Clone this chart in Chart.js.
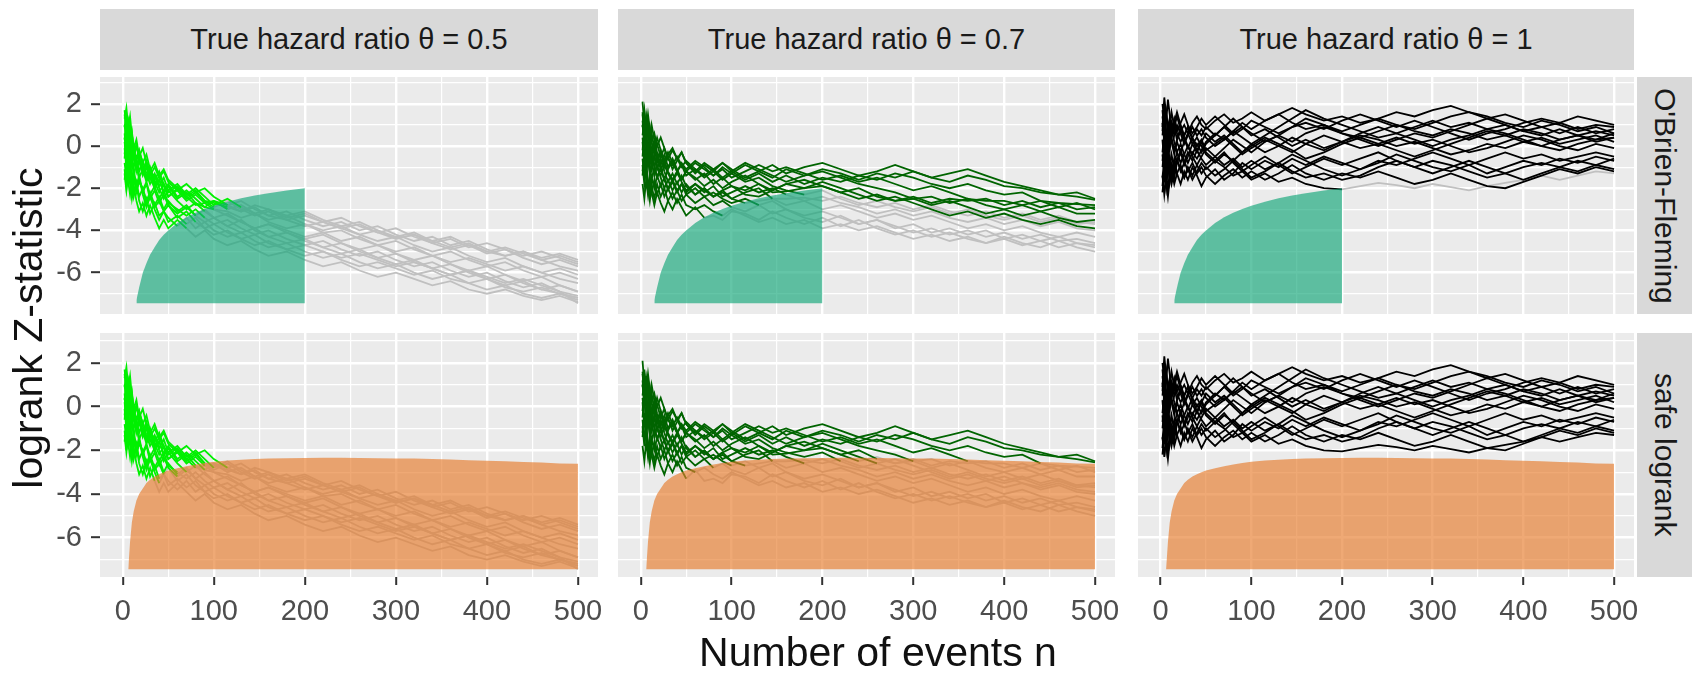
<!DOCTYPE html>
<html>
<head>
<meta charset="utf-8">
<script src="https://cdn.jsdelivr.net/npm/chart.js@4.4.1/dist/chart.umd.min.js"></script>
<style>
  body { margin: 0; background: #fff; }
  #fig { position: relative; width: 1698px; height: 675px; font-family: "Liberation Sans", Arial, sans-serif; }
  .panel { position: absolute; }
  .strip { position: absolute; background: #d9d9d9; color: #1a1a1a; font-size: 29px; display: flex; align-items: center; justify-content: center; }
  .strip.side { writing-mode: vertical-rl; font-size: 30px; }
  .title { position: absolute; color: #111; font-size: 41px; white-space: nowrap; }
</style>
</head>
<body>
<div id="fig"></div>
<script>
const nEvents = [2, 4, 6, 8, 10, 12, 15, 18, 22, 26, 30, 35, 40, 45, 50, 60, 70, 80, 90, 100,
  115, 130, 145, 160, 180, 200, 220, 240, 260, 280, 300, 320, 340, 360, 380, 400, 420, 440, 460, 480, 500];

// rejection boundaries (upper edge of the shaded regions)
const obfBound = [null, null, null, null, null, null, -7.3, -6.7, -6.0, -5.55, -5.15, -4.8, -4.45, -4.2, -4.0,
  -3.65, -3.38, -3.16, -2.98, -2.83, -2.64, -2.48, -2.35, -2.24, -2.11, -2.0,
  null, null, null, null, null, null, null, null, null, null, null, null, null, null, null];
const safeBound = [null, null, -7.45, -6.2, -5.3, -4.8, -4.3, -4.0, -3.75, -3.5, -3.35, -3.2, -3.1, -3.0, -2.92,
  -2.82, -2.73, -2.65, -2.58, -2.52, -2.47, -2.43, -2.4, -2.38, -2.36, -2.35, -2.34, -2.34, -2.35, -2.36,
  -2.37, -2.38, -2.4, -2.42, -2.45, -2.48, -2.5, -2.53, -2.56, -2.6, -2.62];
const areaFloor = -7.45;

// logrank Z paths, true hazard ratio 0.5
const theta05 = [
  [1.7, 0.8, 1.2, 0.3, 0.7, -0.1, 0.3, -0.5, -0.1, -0.8, -1.2, -0.8, -1.4, -1.1, -1.6, -2.0, -2.4, -2.1, -2.6, -2.7, -2.9, -3.1, -2.8, -3.0, -3.3, -3.1, -3.5, -3.8, -3.6, -4.0, -4.3, -4.1, -4.5, -4.8, -4.6, -5.0, -5.2, -5.0, -5.3, -5.1, -5.4],
  [0.2, -0.7, -1.5, -0.8, -1.6, -1.1, -1.9, -1.4, -2.2, -1.8, -2.5, -2.1, -2.7, -2.3, -2.8, -3.2, -2.9, -3.3, -3.6, -3.4, -3.8, -4.1, -3.9, -4.3, -4.6, -4.4, -4.8, -5.1, -4.9, -5.3, -5.6, -5.4, -5.8, -6.1, -5.9, -6.3, -6.6, -6.4, -6.8, -7.0, -7.2],
  [1.3, 1.8, 0.9, 1.4, 0.5, 0.0, -0.6, -0.2, -0.8, -0.4, -1.1, -1.6, -1.2, -1.8, -2.2, -1.9, -2.4, -2.8, -2.7, -3.0, -3.3, -3.6, -3.9, -3.7, -4.1, -4.4, -4.2, -4.6, -4.9, -4.7, -5.1, -5.4, -5.2, -5.6, -5.9, -5.7, -6.1, -6.4, -6.2, -6.6, -6.9],
  [-1.1, -2.0, -1.2, -1.8, -2.5, -1.9, -2.6, -3.1, -2.7, -3.3, -2.8, -3.4, -3.9, -3.5, -3.9, -3.5, -3.9, -4.3, -4.0, -4.4, -4.7, -4.5, -4.9, -5.2, -5.0, -5.4, -5.7, -5.5, -5.9, -6.2, -6.0, -6.3, -6.6, -6.4, -6.8, -7.0, -6.8, -7.1, -7.3, -7.1, -7.4],
  [0.6, -0.3, 0.5, -0.2, -0.9, -0.4, -1.2, -0.7, -1.4, -1.0, -1.6, -1.3, -1.9, -1.5, -2.1, -1.8, -2.3, -2.0, -2.4, -2.8, -2.5, -2.9, -3.2, -3.0, -3.4, -3.2, -3.6, -3.9, -3.7, -4.1, -4.4, -4.2, -4.5, -4.3, -4.7, -5.0, -4.8, -5.1, -5.4, -5.2, -5.5],
  [-0.4, 0.5, -0.3, -1.1, -0.5, -1.3, -2.0, -1.5, -2.3, -2.9, -2.4, -3.0, -3.5, -3.1, -3.6, -3.3, -3.7, -3.4, -3.9, -4.2, -4.0, -4.4, -4.7, -4.5, -4.9, -5.2, -5.0, -5.4, -5.7, -5.5, -5.8, -6.1, -5.9, -6.3, -6.5, -6.3, -6.7, -6.9, -6.7, -7.0, -7.2],
  [1.0, 0.1, -0.6, 0.0, -0.7, -0.2, -0.9, -1.5, -1.1, -1.7, -1.3, -1.9, -1.6, -2.2, -1.9, -2.5, -2.2, -2.7, -2.9, -3.0, -3.1, -3.4, -3.2, -3.6, -3.9, -3.7, -4.1, -4.0, -4.4, -4.7, -4.5, -4.9, -5.2, -5.0, -5.4, -5.7, -5.5, -5.9, -6.2, -6.0, -6.3],
  [-1.6, -0.8, -1.7, -2.3, -1.6, -2.4, -1.8, -2.6, -3.1, -2.5, -3.2, -2.7, -3.3, -3.1, -3.4, -3.8, -3.4, -3.9, -3.6, -4.0, -4.3, -4.1, -4.5, -4.8, -4.6, -5.0, -5.3, -5.1, -5.5, -5.8, -5.6, -6.0, -6.3, -6.1, -6.5, -6.8, -6.6, -7.0, -7.2, -7.0, -7.3],
  [0.9, 1.5, 0.7, 0.1, 0.6, -0.1, -0.7, -0.2, -0.9, -1.5, -1.0, -1.7, -2.2, -1.8, -2.4, -2.1, -2.6, -2.3, -2.7, -2.6, -2.8, -3.1, -2.9, -3.3, -3.5, -3.3, -3.6, -3.4, -3.8, -4.1, -3.9, -4.3, -4.6, -4.4, -4.8, -4.6, -4.9, -5.2, -5.0, -5.3, -5.6],
  [-0.8, -1.5, -0.7, -1.4, -2.1, -1.5, -2.2, -1.7, -2.0, -2.6, -2.2, -2.8, -2.4, -3.0, -2.6, -3.1, -2.8, -3.3, -3.0, -3.4, -3.8, -3.5, -4.0, -4.3, -4.1, -4.5, -4.8, -4.6, -5.0, -5.3, -5.1, -5.5, -5.8, -5.6, -6.0, -6.3, -6.1, -6.5, -6.8, -6.6, -6.9],
  [0.3, 1.1, 0.4, -0.4, 0.2, -0.5, 0.0, -0.6, -1.3, -0.8, -1.5, -2.0, -1.6, -2.2, -1.8, -2.4, -2.1, -2.5, -2.9, -2.6, -3.0, -2.8, -3.2, -3.5, -3.3, -3.7, -4.0, -3.8, -4.2, -4.5, -4.3, -4.7, -5.0, -4.8, -5.2, -5.5, -5.3, -5.7, -6.0, -5.8, -6.1],
  [-0.1, -1.0, -0.3, -1.2, -0.6, -1.4, -0.8, -1.6, -2.1, -1.7, -2.3, -1.9, -2.5, -2.1, -2.7, -3.0, -3.3, -3.0, -3.4, -3.7, -3.5, -3.9, -4.2, -4.0, -4.4, -4.7, -4.5, -4.9, -5.2, -5.0, -5.4, -5.7, -5.5, -5.9, -6.2, -6.0, -6.4, -6.7, -6.5, -6.9, -7.45],
  [-0.6, 0.4, -0.4, 0.3, -0.5, -1.0, -0.6, -1.2, -0.7, -1.3, -1.8, -1.4, -2.0, -2.5, -2.1, -2.6, -3.0, -2.7, -3.1, -3.4, -3.2, -3.6, -3.9, -3.7, -4.0, -4.3, -4.1, -4.5, -4.3, -4.7, -5.0, -4.8, -5.2, -5.5, -5.3, -5.6, -5.9, -5.7, -6.0, -6.3, -6.5],
  [1.5, 0.7, 0.0, 0.8, 0.2, -0.5, 0.1, -0.6, -1.2, -0.7, -1.4, -1.0, -1.5, -1.2, -1.7, -2.1, -1.8, -2.2, -2.0, -2.4, -2.8, -2.6, -3.0, -3.3, -3.1, -3.5, -3.8, -3.6, -4.0, -3.8, -4.2, -4.5, -4.3, -4.7, -4.5, -4.9, -5.2, -5.0, -5.4, -5.7, -5.9],
  [-1.3, -2.1, -1.4, -0.7, -1.5, -2.2, -1.7, -2.4, -2.0, -2.7, -2.3, -2.9, -2.6, -3.1, -2.8, -3.4, -3.1, -3.6, -3.9, -3.7, -4.1, -4.4, -4.2, -4.6, -4.9, -4.7, -5.0, -5.3, -5.1, -5.4, -5.7, -5.5, -5.8, -6.1, -5.9, -6.2, -6.5, -6.3, -6.6, -6.9, -7.1],
  [0.4, -0.4, 0.3, 1.0, 0.2, -0.3, -1.0, -0.5, -1.1, -1.6, -1.2, -1.8, -1.4, -1.9, -2.4, -2.0, -2.5, -2.2, -2.6, -2.9, -2.6, -3.0, -3.3, -3.1, -3.5, -3.8, -3.6, -3.9, -4.2, -4.0, -4.4, -4.2, -4.6, -4.9, -4.7, -5.1, -4.9, -5.3, -5.6, -5.4, -5.7]
];

// true hazard ratio 0.7
const theta07 = [
  [1.5, 0.6, 1.3, 0.4, 0.9, 0.2, -0.4, 0.1, -0.5, -0.1, -0.6, -0.9, -0.5, -0.9, -1.2, -0.8, -1.1, -1.4, -1.0, -1.3, -0.9, -1.2, -1.5, -1.1, -1.4, -1.1, -1.3, -1.6, -1.3, -1.5, -1.2, -1.5, -1.7, -1.4, -1.6, -1.9, -2.0, -2.2, -2.3, -2.4, -2.55],
  [2.1, 1.0, 0.3, 1.1, 0.4, -0.3, 0.2, -0.6, -0.2, -0.8, -0.4, -0.1, -0.6, -0.3, -0.8, -1.3, -0.9, -1.2, -0.8, -1.1, -1.5, -1.2, -0.9, -1.3, -1.0, -0.8, -1.1, -1.4, -1.2, -0.9, -1.2, -1.5, -1.3, -1.1, -1.4, -1.7, -1.9, -2.1, -2.3, -2.2, -2.5],
  [0.2, -0.9, -0.2, -1.0, -0.4, -1.1, -0.5, -1.0, -1.4, -0.9, -1.3, -1.7, -1.3, -1.6, -1.2, -1.5, -1.9, -1.6, -2.0, -1.7, -1.4, -1.8, -2.1, -1.8, -1.6, -1.9, -2.2, -2.0, -2.4, -2.6, -2.5, -2.8, -2.6, -2.9, -3.2, -3.0, -3.3, -3.1, -3.4, -3.6, -3.5],
  [1.2, 0.3, -0.6, 0.1, -0.7, -0.2, -0.9, -1.5, -1.0, -1.6, -2.0, -1.6, -2.1, -1.8, -2.2, -1.8, -2.1, -2.4, -2.1, -1.9, -2.3, -2.4, -2.1, -1.8, -2.0, -1.7, -2.0, -2.3, -2.6, -2.4, -2.7, -3.0, -3.3, -3.1, -3.4, -3.2, -3.5, -3.7, -3.5, -3.8, -3.9],
  [-0.5, 0.5, 1.4, 0.6, 0.0, 0.6, -0.1, 0.4, -0.2, -0.7, -0.3, -0.8, -1.2, -0.8, -1.1, -0.7, -1.0, -1.4, -1.1, -1.5, -1.2, -0.9, -1.2, -1.0, -1.3, -1.6, -1.4, -1.7, -1.5, -1.8, -2.1, -1.9, -2.2, -2.5, -2.6, -2.6, -2.8, -2.6, -2.9, -2.7, -3.0],
  [0.9, 1.7, 0.8, 1.5, 0.8, 0.2, 0.6, 0.0, 0.4, -0.1, -0.6, -0.2, -0.6, -1.0, -0.7, -1.1, -1.4, -1.1, -0.8, -1.2, -1.6, -1.3, -1.7, -1.4, -1.8, -1.5, -1.7, -1.4, -1.6, -1.3, -1.5, -1.8, -2.0, -1.8, -2.1, -2.3, -2.2, -2.6, -2.7, -2.75, -2.8],
  [-1.2, -0.3, -1.1, -0.4, -1.3, -0.8, -1.4, -0.9, -1.5, -2.0, -1.6, -2.1, -1.7, -2.2, -1.8, -2.3, -2.0, -2.4, -2.1, -2.5, -2.2, -2.0, -2.5, -2.8, -2.6, -3.0, -2.8, -3.1, -3.4, -3.2, -3.5, -3.3, -3.6, -3.9, -3.7, -4.0, -3.8, -4.1, -4.3, -4.1, -4.3],
  [0.4, -0.5, -1.4, -2.1, -1.5, -2.2, -1.6, -2.3, -1.8, -2.4, -2.0, -2.5, -2.1, -2.6, -2.3, -2.7, -2.4, -2.8, -2.6, -2.9, -3.1, -2.8, -3.2, -3.0, -3.4, -3.6, -3.3, -3.7, -3.5, -3.9, -3.7, -4.1, -3.9, -4.2, -4.0, -4.4, -4.2, -4.5, -4.3, -4.6, -4.7],
  [-1.8, -2.5, -1.6, -2.3, -1.5, -2.2, -2.8, -2.2, -2.7, -3.1, -2.6, -3.0, -2.5, -2.9, -3.3, -2.9, -3.4, -3.3, -3.5, -3.1, -3.2, -3.5, -3.1, -3.4, -3.7, -3.4, -3.8, -3.5, -3.9, -4.2, -4.0, -4.3, -4.1, -4.4, -4.6, -4.3, -4.6, -4.8, -4.5, -4.8, -5.0],
  [-0.2, 0.8, 0.1, -0.7, -0.1, -0.9, -0.4, -1.1, -0.6, -1.2, -1.7, -1.3, -1.8, -1.4, -1.9, -2.3, -2.0, -2.4, -2.2, -2.5, -2.7, -2.6, -2.5, -2.5, -2.45, -2.6, -2.4, -2.7, -2.9, -2.7, -3.0, -2.8, -3.1, -3.3, -3.1, -3.4, -3.2, -3.5, -3.3, -3.6, -3.7],
  [1.0, 0.1, 0.7, -0.2, 0.4, -0.4, -1.0, -0.5, -1.1, -0.7, -1.2, -1.6, -1.2, -1.7, -2.1, -1.8, -2.2, -1.9, -2.4, -2.2, -1.9, -2.2, -2.0, -2.3, -2.6, -2.4, -2.7, -2.9, -3.2, -3.0, -3.3, -3.1, -3.4, -3.6, -3.4, -3.7, -3.5, -3.8, -3.6, -3.9, -4.0],
  [-0.9, -1.8, -1.0, -0.3, -1.0, -1.6, -1.0, -1.5, -1.1, -1.6, -1.1, -0.7, -1.2, -0.9, -1.4, -1.1, -1.5, -1.2, -1.6, -1.3, -1.7, -1.5, -1.9, -2.1, -2.3, -2.1, -2.5, -2.8, -2.6, -2.9, -3.1, -2.9, -3.2, -3.0, -3.3, -3.5, -3.3, -3.6, -3.4, -3.7, -3.6],
  [-0.6, -1.5, -0.8, -1.6, -2.2, -1.5, -2.0, -1.4, -1.9, -1.5, -2.1, -1.7, -2.2, -1.8, -2.3, -2.0, -2.4, -2.2, -2.5, -2.7, -2.5, -2.8, -2.6, -3.0, -3.3, -3.1, -3.4, -3.7, -3.5, -3.8, -4.1, -3.9, -4.2, -4.0, -4.3, -4.1, -4.4, -4.2, -4.5, -4.4, -4.6],
  [1.6, 0.7, 0.0, -0.7, 0.1, -0.6, 0.0, -0.8, -0.3, -1.0, -0.5, -1.1, -0.7, -0.3, -0.8, -1.2, -0.8, -1.1, -1.5, -1.2, -0.8, -1.1, -1.4, -1.7, -1.4, -1.2, -1.5, -1.8, -2.0, -2.2, -2.5, -2.4, -2.7, -2.5, -2.8, -3.0, -2.8, -3.1, -2.9, -3.2, -3.2],
  [-1.4, -0.5, -1.3, -2.0, -2.6, -1.9, -2.5, -1.8, -2.4, -2.0, -2.6, -2.2, -2.7, -2.3, -2.8, -3.0, -2.8, -3.1, -3.3, -3.0, -3.3, -3.6, -3.4, -3.7, -3.5, -3.9, -3.7, -4.0, -3.8, -4.1, -4.4, -4.2, -4.5, -4.3, -4.6, -4.4, -4.7, -4.5, -4.8, -4.6, -4.8],
  [0.5, 1.2, 0.4, -0.3, 0.3, 1.0, 0.3, -0.3, -0.9, -0.4, -1.0, -0.6, -1.1, -1.6, -1.2, -1.6, -1.3, -1.8, -1.5, -1.9, -2.1, -1.8, -2.2, -2.15, -2.0, -1.9, -2.2, -2.5, -2.3, -2.6, -2.4, -2.7, -2.5, -2.6, -2.5, -2.8, -2.6, -2.9, -2.7, -3.0, -2.9]
];

// true hazard ratio 1
const theta1 = [
  [1.4, 0.7, 1.6, 0.9, 1.2, 0.5, 0.9, 0.3, 0.7, 1.0, 0.6, 1.1, 1.4, 1.0, 0.8, 1.2, 1.5, 1.1, 1.3, 1.6, 1.2, 1.5, 1.8, 1.5, 1.2, 1.4, 1.1, 1.3, 1.0, 0.8, 1.1, 1.4, 1.6, 1.3, 1.5, 1.2, 0.9, 1.1, 0.8, 1.0, 0.9],
  [-0.7, 0.0, -1.2, -0.5, -0.9, -1.6, -1.0, -0.6, -1.2, -0.8, -0.3, -0.7, -0.2, -0.6, -0.9, -0.5, -0.1, 0.3, 0.0, -0.3, 0.2, 0.5, 0.2, 0.6, 0.9, 0.6, 0.4, 0.7, 1.0, 0.7, 0.5, 0.8, 0.6, 0.3, 0.5, 0.2, 0.4, 0.1, 0.3, 0.5, 0.2],
  [0.7, 1.9, 1.1, 2.2, 1.5, 0.8, 1.3, 0.6, 0.2, 0.5, 0.9, 0.4, 0.0, 0.3, -0.2, 0.1, 0.4, 0.0, -0.4, -0.1, 0.3, 0.0, -0.3, 0.1, -0.2, 0.2, 0.5, 0.3, 0.0, 0.2, -0.1, -0.4, -0.2, 0.1, -0.1, 0.2, 0.0, 0.3, 0.5, 0.3, 0.6],
  [-1.4, -2.3, -1.5, -0.8, -1.7, -1.1, -1.8, -1.3, -0.9, -1.5, -1.1, -1.6, -1.2, -0.8, -1.1, -0.7, -1.0, -1.4, -1.2, -1.6, -1.3, -1.7, -1.5, -1.8, -2.0, -2.05, -1.9, -1.75, -1.85, -2.0, -1.8, -1.95, -2.1, -1.9, -1.75, -1.6, -1.4, -1.6, -1.4, -1.2, -1.3],
  [2.0, 1.2, 0.4, 1.0, 0.3, 0.8, 0.2, -0.3, 0.1, -0.4, -0.8, -0.3, -0.6, -0.2, 0.2, 0.6, 0.3, 0.7, 1.1, 0.8, 1.2, 1.5, 1.1, 0.8, 1.0, 0.7, 1.0, 1.3, 1.6, 1.4, 1.7, 1.9, 1.6, 1.4, 1.1, 0.9, 1.2, 1.0, 0.7, 0.9, 0.6],
  [-2.2, -1.3, -2.0, -1.1, -0.5, -1.2, -0.6, -1.3, -1.8, -1.2, -1.6, -1.0, -1.4, -1.9, -1.5, -1.1, -1.6, -1.3, -0.8, -1.1, -0.7, -1.0, -0.6, -0.9, -0.5, -0.8, -1.1, -0.8, -0.4, -0.7, -1.0, -1.2, -0.9, -1.3, -1.0, -0.7, -0.9, -0.6, -0.8, -0.5, -0.7],
  [0.3, -0.8, 0.2, -0.4, 0.6, 1.1, 0.5, 1.0, 0.6, 0.1, 0.5, 0.9, 0.5, 0.8, 0.4, 0.0, 0.3, 0.7, 0.4, 0.1, -0.3, 0.0, 0.4, 0.1, 0.5, 0.2, -0.1, 0.1, 0.4, 0.1, 0.3, 0.0, -0.3, -0.1, 0.2, 0.5, 0.3, 0.0, -0.2, 0.1, -0.1],
  [1.1, 0.2, -0.7, 0.4, -0.2, 0.5, 1.2, 0.7, 1.1, 1.5, 1.0, 0.6, 0.9, 1.3, 1.0, 1.4, 1.0, 0.6, 0.9, 0.5, 0.8, 0.4, 0.0, 0.3, -0.1, 0.2, 0.6, 0.9, 0.6, 0.9, 1.2, 0.9, 1.1, 0.8, 1.0, 0.7, 0.9, 0.6, 0.9, 0.6, 0.8],
  [-1.0, -0.2, 0.6, -0.3, -1.0, -0.4, -1.1, -0.7, -0.2, -0.7, -1.2, -0.8, -1.3, -1.0, -1.4, -1.8, -1.4, -1.1, -1.5, -1.2, -1.6, -1.3, -0.9, -1.3, -1.6, -1.3, -1.5, -1.2, -1.5, -1.8, -1.6, -1.3, -1.6, -1.9, -2.0, -1.7, -1.4, -1.1, -1.3, -1.0, -1.2],
  [0.5, 1.3, 0.7, 0.0, 0.7, 0.2, -0.4, 0.2, -0.3, 0.2, 0.6, 0.1, 0.4, 0.0, -0.4, -0.8, -0.4, -0.7, -0.3, 0.1, 0.5, 0.9, 1.3, 1.7, 1.3, 1.0, 0.7, 0.4, 0.6, 0.3, 0.0, 0.3, 0.5, 0.8, 0.6, 0.3, 0.0, -0.2, 0.1, 0.3, 0.4],
  [-0.3, 0.6, -0.5, -1.3, -0.7, -1.4, -0.8, -0.3, -0.8, -0.4, 0.0, -0.5, -0.9, -0.5, -0.1, -0.5, -0.9, -0.6, -1.0, -0.7, -1.1, -0.8, -0.4, -0.7, -1.1, -1.4, -1.1, -0.7, -0.9, -0.6, -0.3, -0.6, -0.9, -0.6, -0.3, -0.6, -0.4, -0.7, -0.5, -0.3, -0.5],
  [1.7, 0.8, 1.5, 0.6, 1.0, 1.6, 0.9, 1.4, 0.8, 0.3, -0.1, 0.4, 0.8, 0.5, 0.9, 0.5, 0.9, 1.3, 0.9, 0.6, 0.2, 0.5, 0.9, 1.1, 0.8, 1.2, 1.5, 1.2, 0.9, 1.2, 0.9, 0.6, 0.3, 0.6, 0.8, 1.1, 1.3, 1.1, 1.4, 1.2, 1.0],
  [-1.9, -1.0, -1.7, -2.4, -1.6, -0.9, -1.5, -0.8, -0.3, -0.9, -0.5, 0.1, -0.3, 0.2, 0.6, 0.2, 0.5, 0.1, -0.3, 0.0, 0.4, 0.1, -0.2, -0.6, -0.3, 0.1, 0.4, 0.1, -0.2, -0.5, -0.2, 0.1, 0.4, 0.7, 0.5, 0.8, 0.6, 0.3, 0.5, 0.2, 0.4],
  [0.9, 2.3, 1.5, 0.7, 1.3, 0.6, 1.1, 1.6, 1.0, 0.5, 0.9, 0.3, -0.2, 0.2, -0.3, -0.7, -0.3, -0.8, -1.2, -0.9, -0.5, -0.9, -1.3, -1.0, -0.6, -0.9, -0.6, -0.3, -0.7, -1.0, -1.3, -1.0, -0.7, -1.0, -1.3, -1.6, -1.3, -1.0, -1.2, -0.9, -1.1],
  [-0.4, -1.3, -0.6, 0.3, 1.0, 0.4, -0.2, 0.3, 0.9, 0.4, 0.0, -0.4, 0.1, -0.3, 0.1, 0.5, 0.9, 0.5, 0.8, 1.2, 0.9, 0.6, 0.9, 1.3, 1.0, 0.6, 0.3, 0.0, 0.3, 0.6, 0.4, 0.7, 1.0, 1.3, 1.0, 0.7, 0.5, 0.8, 0.5, 0.7, 0.5],
  [-1.5, -0.6, -1.4, -2.0, -1.3, -1.8, -1.2, -0.7, -1.1, -1.5, -1.0, -1.4, -0.9, -1.3, -1.0, -1.4, -1.1, -0.7, -1.1, -1.5, -1.2, -0.8, -1.2, -1.5, -1.3, -1.6, -1.4, -1.0, -0.7, -1.0, -0.7, -0.9, -1.2, -1.5, -1.3, -1.0, -0.8, -1.0, -0.7, -0.9, -0.6]
];

const thetaLabels = ['True hazard ratio \u03b8 = 0.5', 'True hazard ratio \u03b8 = 0.7', 'True hazard ratio \u03b8 = 1'];
const designLabels = ["O'Brien-Fleming", 'safe logrank'];
const xMajor = [0, 100, 200, 300, 400, 500];
const xMinor = [50, 150, 250, 350, 450];
const yMajor = [-6, -4, -2, 0, 2];
const yMinor = [-7, -5, -3, -1, 1, 3];

const seriesByTheta = [theta05, theta07, theta1];
const pathColors = ['#00f000', '#006400', '#000000'];
const stoppedColor = '#c0c0c0';
const bounds = [obfBound, safeBound];
const areaColors = ['rgba(17,166,120,0.65)', 'rgba(231,123,43,0.65)'];

const cols = [{ left: 100, right: 598 }, { left: 618, right: 1115 }, { left: 1138, right: 1634 }];
const rows = [{ top: 77, bottom: 314, min: -7.96, max: 3.27 }, { top: 333, bottom: 577, min: -7.8, max: 3.37 }];
const font = '"Liberation Sans", Arial, sans-serif';
const fig = document.getElementById('fig');

const panelBg = {
  id: 'panelBg',
  beforeDraw(chart) {
    const a = chart.chartArea;
    const ctx = chart.ctx;
    ctx.save();
    ctx.fillStyle = '#ebebeb';
    ctx.fillRect(a.left, a.top, a.right - a.left, a.bottom - a.top);
    ctx.restore();
  }
};

function firstCrossing(path, bound) {
  for (let i = 0; i < path.length; i++) {
    if (bound[i] !== null && path[i] < bound[i]) return i;
  }
  return -1;
}

function pathSet(points, color, order) {
  return { data: points, borderColor: color, borderWidth: 1.8, pointRadius: 0, tension: 0, fill: false, order: order };
}

function buildDatasets(c, r) {
  const bound = bounds[r];
  const sets = [];
  seriesByTheta[c].forEach(path => {
    const pts = nEvents.map((n, i) => ({ x: n, y: path[i] }));
    const k = firstCrossing(path, bound);
    if (k < 0) {
      sets.push(pathSet(pts, pathColors[c], 1));
    } else {
      sets.push(pathSet(pts.slice(0, k + 1), pathColors[c], 1));
      sets.push(pathSet(pts.slice(k), stoppedColor, 2));
    }
  });
  sets.push({
    data: nEvents.map((n, i) => ({ x: n, y: bound[i] })),
    borderWidth: 0,
    backgroundColor: areaColors[r],
    pointRadius: 0,
    fill: { value: areaFloor },
    order: 0
  });
  return sets;
}

function addDiv(cls, text, left, top, width, height) {
  const d = document.createElement('div');
  d.className = cls;
  d.textContent = text;
  Object.assign(d.style, { left: left + 'px', top: top + 'px', width: width + 'px', height: height + 'px' });
  fig.appendChild(d);
  return d;
}

function makePanel(c, r) {
  const col = cols[c], row = rows[r];
  const showY = c === 0, showX = r === 1;
  const left = showY ? 0 : col.left;
  const padRight = showX ? 30 : 0;
  const axisW = showY ? col.left : 0;
  const axisH = showX ? 60 : 0;
  const box = document.createElement('div');
  box.className = 'panel';
  Object.assign(box.style, {
    left: left + 'px', top: row.top + 'px',
    width: (col.right - left + padRight) + 'px', height: (row.bottom - row.top + axisH) + 'px'
  });
  const canvas = document.createElement('canvas');
  box.appendChild(canvas);
  fig.appendChild(box);

  new Chart(canvas.getContext('2d'), {
    type: 'line',
    data: { datasets: buildDatasets(c, r) },
    plugins: [panelBg],
    options: {
      responsive: true,
      maintainAspectRatio: false,
      devicePixelRatio: 1,
      animation: false,
      events: [],
      layout: { padding: { left: 0, top: 0, bottom: 0, right: padRight } },
      plugins: { legend: { display: false }, tooltip: { enabled: false } },
      scales: {
        x: {
          type: 'linear', min: -25, max: 522,
          afterBuildTicks: s => { s.ticks = xMajor.concat(xMinor).map(v => ({ value: v })); },
          afterFit: s => { s.height = axisH; s.paddingLeft = 0; s.paddingRight = 0; },
          border: { display: false },
          grid: {
            color: '#ffffff',
            lineWidth: ctx => xMajor.includes(ctx.tick.value) ? 2.4 : 1.2,
            drawTicks: showX,
            tickLength: 8,
            tickWidth: 2,
            tickColor: ctx => xMajor.includes(ctx.tick.value) ? '#333333' : 'rgba(0,0,0,0)'
          },
          ticks: {
            display: showX, autoSkip: false, maxRotation: 0, padding: 10,
            color: '#4d4d4d', font: { family: font, size: 29 },
            callback: v => xMajor.includes(v) ? String(v) : ''
          }
        },
        y: {
          type: 'linear', min: row.min, max: row.max,
          afterBuildTicks: s => { s.ticks = yMajor.concat(yMinor).map(v => ({ value: v })); },
          afterFit: s => { s.width = axisW; s.paddingTop = 0; s.paddingBottom = 0; },
          border: { display: false },
          grid: {
            color: '#ffffff',
            lineWidth: ctx => yMajor.includes(ctx.tick.value) ? 2.4 : 1.2,
            drawTicks: showY,
            tickLength: 9,
            tickWidth: 2,
            tickColor: ctx => yMajor.includes(ctx.tick.value) ? '#333333' : 'rgba(0,0,0,0)'
          },
          ticks: {
            display: showY, autoSkip: false, padding: 9,
            color: '#4d4d4d', font: { family: font, size: 29 },
            callback: v => yMajor.includes(v) ? String(v) : ''
          }
        }
      }
    }
  });
}

cols.forEach((col, c) => {
  addDiv('strip', thetaLabels[c], col.left, 9, col.right - col.left, 61);
  rows.forEach((row, r) => makePanel(c, r));
});
rows.forEach((row, r) => addDiv('strip side', designLabels[r], 1637, row.top, 55, row.bottom - row.top));

const xt = addDiv('title', 'Number of events n', 878 - 250, 628, 500, 48);
xt.style.textAlign = 'center';
xt.style.lineHeight = '48px';
const yt = addDiv('title', 'logrank Z-statistic', 28 - 250, 328 - 24, 500, 48);
yt.style.textAlign = 'center';
yt.style.lineHeight = '48px';
yt.style.transform = 'rotate(-90deg)';
</script>
</body>
</html>
